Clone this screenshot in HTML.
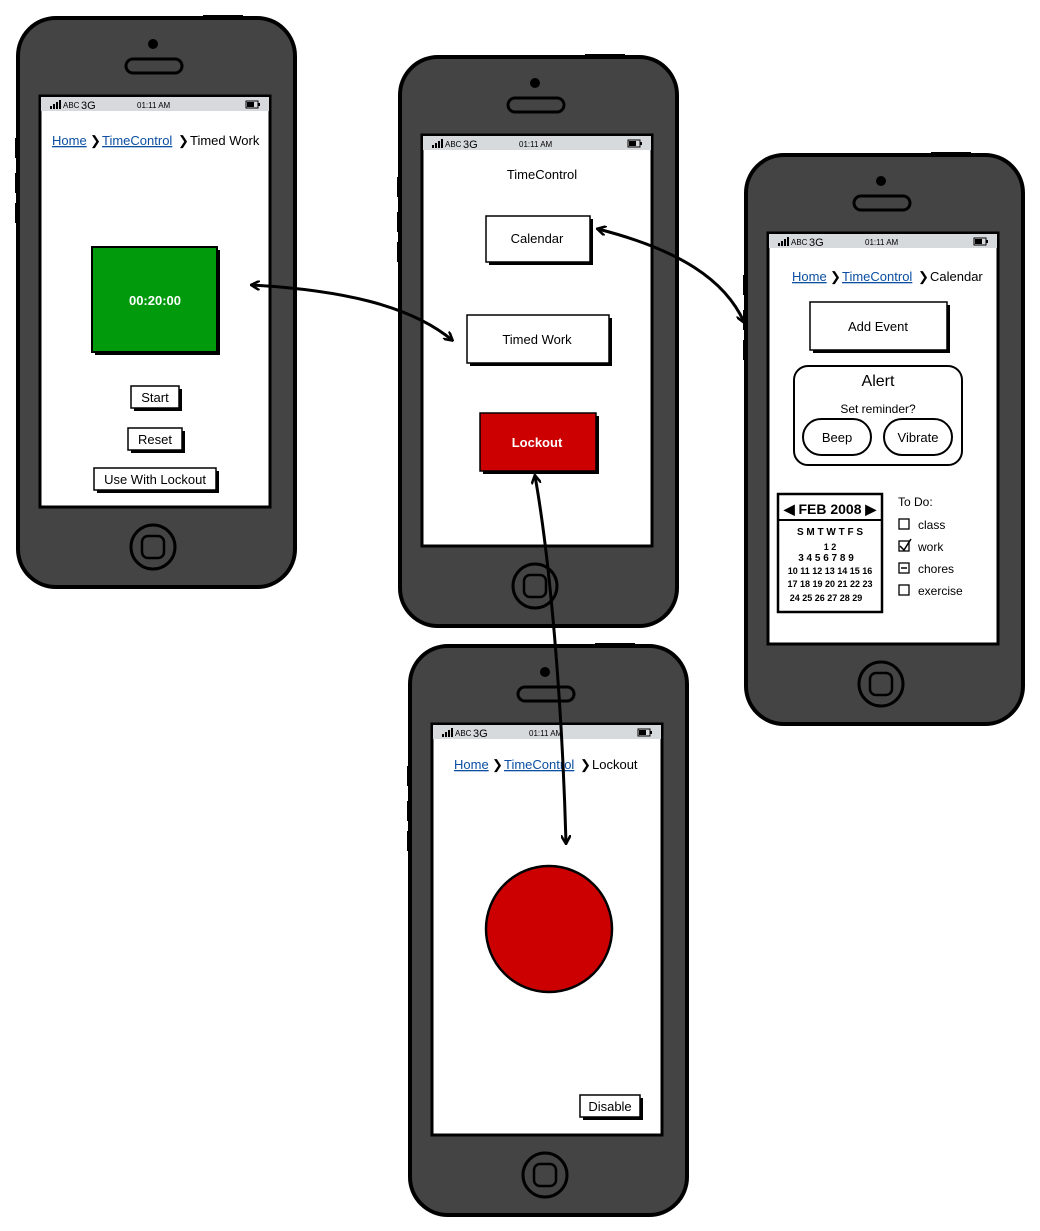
<!DOCTYPE html>
<html><head><meta charset="utf-8"><style>
html,body{margin:0;padding:0;background:#fff;}
svg{display:block;}
text{font-family:"Liberation Sans",sans-serif;}
</style></head><body>
<svg width="1040" height="1231" viewBox="0 0 1040 1231" xmlns="http://www.w3.org/2000/svg">
<defs>
<g id="phone">
<rect x="0" y="0" width="277" height="569" rx="38" fill="#444" stroke="#000" stroke-width="4"/>
<rect x="-3" y="120" width="4" height="20" fill="#000"/>
<rect x="-3" y="155" width="4" height="20" fill="#000"/>
<rect x="-3" y="185" width="4" height="20" fill="#000"/>
<rect x="185" y="-3" width="40" height="4" fill="#000"/>
<rect x="22" y="78" width="230" height="411" fill="#fff" stroke="#000" stroke-width="3"/>
<rect x="23" y="79" width="228" height="14" fill="#d6dadd"/>
<circle cx="135" cy="26" r="5" fill="#000"/>
<rect x="108" y="41" width="56" height="14" rx="7" fill="#444" stroke="#000" stroke-width="3"/>
<circle cx="135" cy="529" r="22" fill="#444" stroke="#000" stroke-width="3"/>
<rect x="124" y="518" width="22" height="22" rx="6" fill="none" stroke="#000" stroke-width="2.5"/>
<g font-size="8" fill="#000">
<rect x="32" y="88" width="2" height="3"/><rect x="35" y="86" width="2" height="5"/><rect x="38" y="84" width="2" height="7"/><rect x="41" y="82" width="2" height="9"/>
<text x="45" y="90">ABC</text><text x="63" y="91" font-size="11" font-family="Liberation Serif">3G</text>
<text x="119" y="90">01:11 AM</text>
<rect x="228" y="83" width="12" height="7" fill="none" stroke="#000" stroke-width="1"/><rect x="229" y="84" width="7" height="5"/><rect x="240" y="85" width="2" height="3"/>
</g>
</g>
<marker id="ah" markerWidth="10" markerHeight="10" refX="8" refY="5" orient="auto-start-reverse" markerUnits="userSpaceOnUse"><path d="M0,0 L9,5 L0,10" fill="none" stroke="#000" stroke-width="2.5"/></marker>
</defs>

<use href="#phone" x="18" y="18"/>
<use href="#phone" x="400" y="57"/>
<use href="#phone" x="746" y="155"/>
<use href="#phone" x="410" y="646"/>

<!-- Phone 1 -->
<g font-size="13">
<text x="52" y="145" fill="#0b4ea2" text-decoration="underline">Home</text>
<text x="90" y="145">❯</text>
<text x="102" y="145" fill="#0b4ea2" text-decoration="underline">TimeControl</text>
<text x="178" y="145">❯</text>
<text x="190" y="145">Timed Work</text>
</g>
<rect x="95" y="250" width="125" height="105" fill="#000"/>
<rect x="92" y="247" width="125" height="105" fill="#009a0c" stroke="#000" stroke-width="2"/>
<text x="155" y="305" font-size="13" font-weight="bold" fill="#fff" text-anchor="middle">00:20:00</text>
<g font-size="13" text-anchor="middle">
<rect x="134" y="389" width="48" height="22" fill="#000"/><rect x="131" y="386" width="48" height="22" fill="#fff" stroke="#000" stroke-width="1.5"/><text x="155" y="402">Start</text>
<rect x="131" y="431" width="54" height="22" fill="#000"/><rect x="128" y="428" width="54" height="22" fill="#fff" stroke="#000" stroke-width="1.5"/><text x="155" y="444">Reset</text>
<rect x="97" y="471" width="122" height="22" fill="#000"/><rect x="94" y="468" width="122" height="22" fill="#fff" stroke="#000" stroke-width="1.5"/><text x="155" y="484">Use With Lockout</text>
</g>

<!-- Phone 2 -->
<g font-size="13" text-anchor="middle">
<text x="542" y="179">TimeControl</text>
<rect x="489" y="219" width="104" height="46" fill="#000"/><rect x="486" y="216" width="104" height="46" fill="#fff" stroke="#000" stroke-width="1.5"/><text x="537" y="243">Calendar</text>
<rect x="470" y="318" width="142" height="48" fill="#000"/><rect x="467" y="315" width="142" height="48" fill="#fff" stroke="#000" stroke-width="1.5"/><text x="537" y="344">Timed Work</text>
<rect x="483" y="416" width="116" height="58" fill="#000"/><rect x="480" y="413" width="116" height="58" fill="#cc0000" stroke="#000" stroke-width="1.5"/><text x="537" y="447" fill="#fff" font-weight="bold">Lockout</text>
</g>

<!-- Phone 3 -->
<g font-size="13">
<text x="792" y="281" fill="#0b4ea2" text-decoration="underline">Home</text>
<text x="830" y="281">❯</text>
<text x="842" y="281" fill="#0b4ea2" text-decoration="underline">TimeControl</text>
<text x="918" y="281">❯</text>
<text x="930" y="281">Calendar</text>
</g>
<g font-size="13" text-anchor="middle">
<rect x="813" y="305" width="137" height="48" fill="#000"/><rect x="810" y="302" width="137" height="48" fill="#fff" stroke="#000" stroke-width="1.5"/><text x="878" y="331">Add Event</text>
<rect x="794" y="366" width="168" height="99" rx="14" fill="#fff" stroke="#000" stroke-width="2"/>
<text x="878" y="386" font-size="16">Alert</text>
<text x="878" y="413" font-size="12">Set reminder?</text>
<rect x="803" y="419" width="68" height="36" rx="18" fill="#fff" stroke="#000" stroke-width="2"/><text x="837" y="442">Beep</text>
<rect x="884" y="419" width="68" height="36" rx="18" fill="#fff" stroke="#000" stroke-width="2"/><text x="918" y="442">Vibrate</text>
</g>
<rect x="778" y="494" width="104" height="118" fill="#fff" stroke="#000" stroke-width="2.5"/>
<line x1="779" y1="520" x2="881" y2="520" stroke="#000" stroke-width="2"/>
<g font-size="12" font-weight="bold" text-anchor="middle">
<text x="830" y="514" font-size="14">◀ FEB 2008 ▶</text>
<text x="830" y="535" font-size="10">S M T W T F S</text>
<text x="830" y="550" font-size="9">          1 2</text>
<text x="826" y="561" font-size="10">3 4 5 6 7 8 9</text>
<text x="830" y="574" font-size="9">10 11 12 13 14 15 16</text>
<text x="830" y="587" font-size="9">17 18 19 20 21 22 23</text>
<text x="826" y="601" font-size="9">24 25 26 27 28 29</text>
</g>
<g font-size="12">
<text x="898" y="506">To Do:</text>
<rect x="899" y="519" width="10" height="10" fill="none" stroke="#000" stroke-width="1.3"/><text x="918" y="529">class</text>
<rect x="899" y="541" width="10" height="10" fill="none" stroke="#000" stroke-width="1.3"/><path d="M900,546 L904,550 L911,539" fill="none" stroke="#000" stroke-width="1.5"/><text x="918" y="551">work</text>
<rect x="899" y="563" width="10" height="10" fill="none" stroke="#000" stroke-width="1.3"/><line x1="901" y1="568" x2="907" y2="568" stroke="#000" stroke-width="1.5"/><text x="918" y="573">chores</text>
<rect x="899" y="585" width="10" height="10" fill="none" stroke="#000" stroke-width="1.3"/><text x="918" y="595">exercise</text>
</g>

<!-- Phone 4 -->
<g font-size="13">
<text x="454" y="769" fill="#0b4ea2" text-decoration="underline">Home</text>
<text x="492" y="769">❯</text>
<text x="504" y="769" fill="#0b4ea2" text-decoration="underline">TimeControl</text>
<text x="580" y="769">❯</text>
<text x="592" y="769">Lockout</text>
</g>
<circle cx="549" cy="929" r="63" fill="#cc0000" stroke="#000" stroke-width="2.5"/>
<rect x="583" y="1098" width="60" height="22" fill="#000"/><rect x="580" y="1095" width="60" height="22" fill="#fff" stroke="#000" stroke-width="1.5"/>
<text x="610" y="1111" font-size="13" text-anchor="middle">Disable</text>

<!-- connectors -->
<g fill="none" stroke="#000" stroke-width="3" stroke-linecap="round">
<path d="M252,285 C340,290 410,305 452,340" marker-start="url(#ah)" marker-end="url(#ah)"/>
<path d="M598,229 C680,250 725,280 744,322" marker-start="url(#ah)" marker-end="url(#ah)"/>
<path d="M535,476 C550,560 562,700 566,843" marker-start="url(#ah)" marker-end="url(#ah)"/>
</g>
</svg>
</body></html>
